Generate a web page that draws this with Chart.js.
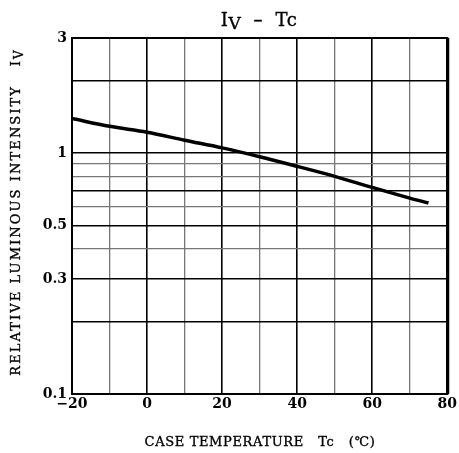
<!DOCTYPE html>
<html>
<head>
<meta charset="utf-8">
<script src="https://cdn.jsdelivr.net/npm/chart.js@4"></script>
<style>
  html, body { margin: 0; padding: 0; background: #fff; }
  #wrap { width: 459px; height: 453px; position: relative; }
</style>
</head>
<body>
<div id="wrap"><canvas id="ivChart" width="459" height="453"></canvas></div>
<script>
// data
const tempC = [-20, -10, 0, 10, 20, 30, 40, 50, 60, 70, 75];
const relIv = [1.39, 1.29, 1.22, 1.13, 1.05, 0.965, 0.88, 0.80, 0.72, 0.65, 0.62];
const yGrid = [0.1, 0.2, 0.3, 0.4, 0.5, 0.6, 0.7, 0.8, 0.9, 1, 2, 3];
const yLabels = [0.1, 0.3, 0.5, 1, 3];
const yStrong = [0.1, 0.2, 0.3, 0.5, 0.7, 1, 2, 3];
const xLabels = [-20, 0, 20, 40, 60, 80];

const SERIF = "'DejaVu Serif', serif";

function drawPieces(ctx, pieces, x, y, align, spacing) {
    // pieces: [text, fontSize, dy]
    ctx.letterSpacing = (spacing || 0) + "px";
    let total = 0;
    pieces.forEach(p => { ctx.font = p[1] + "px " + SERIF; total += ctx.measureText(p[0]).width; });
    let cx = align === "center" ? x - total / 2 : x;
    ctx.textAlign = "left";
    ctx.textBaseline = "alphabetic";
    ctx.strokeStyle = "#000";
    ctx.lineWidth = 0.35;
    pieces.forEach(p => {
        ctx.font = p[1] + "px " + SERIF;
        ctx.fillText(p[0], cx, y + p[2]);
        ctx.strokeText(p[0], cx, y + p[2]);
        cx += ctx.measureText(p[0]).width;
    });
    ctx.letterSpacing = "0px";
}

const textPlugin = {
    id: "texts",
    afterDraw(chart) {
        const ctx = chart.ctx;
        const a = chart.chartArea;
        ctx.save();
        ctx.fillStyle = "#000";
        // frame
        ctx.strokeStyle = "#000";
        ctx.lineWidth = 2;
        ctx.strokeRect(a.left, a.top, a.right - a.left, a.bottom - a.top);
        ctx.fillRect(a.right - 1, a.top, 3, a.bottom - a.top);
        // title
        drawPieces(ctx, [["I", 18, 0], ["V", 17, 3], ["  \u2013  Tc", 18, 0]], 259, 26, "center", 0.5);
        // x title
        drawPieces(ctx, [["CASE TEMPERATURE   Tc   (\u2103)", 13, 0]], 260, 446, "center", 0.65);
        // y title
        ctx.translate(20, 212);
        ctx.rotate(-Math.PI / 2);
        drawPieces(ctx, [["RELATIVE LUMINOUS INTENSITY   I", 13, 0], ["V", 12, 3]], 0, 0, "center", 2.1);
        ctx.restore();
    }
};

function bootChart() {
    const cv = document.getElementById("ivChart");
    new Chart(cv.getContext("2d"), {
        type: "line",
        data: { datasets: [{
            data: tempC.map((t, i) => ({ x: t, y: relIv[i] })),
            borderColor: "#000", borderWidth: 3.5, pointRadius: 0,
            cubicInterpolationMode: "monotone", fill: false
        }]},
        options: {
            responsive: false, animation: false, devicePixelRatio: 1,
            layout: { padding: { top: 38, right: 10, left: 0, bottom: 0 } },
            plugins: { legend: { display: false }, title: { display: false }, tooltip: { enabled: false } },
            scales: {
                x: {
                    type: "linear", min: -20, max: 80,
                    afterFit: s => { s.height = 59; },
                    afterBuildTicks: s => { s.ticks = []; for (let v = -20; v <= 80; v += 10) s.ticks.push({ value: v }); },
                    ticks: {
                        color: "#000", padding: 2, maxRotation: 0, autoSkip: false,
                        font: { family: SERIF, size: 14, weight: "bold" },
                        callback: v => xLabels.includes(v) ? (v < 0 ? "\u2212" + Math.abs(v) : String(v)) : ""
                    },
                    grid: {
                        drawTicks: false,
                        color: c => (c.tick && c.tick.value % 20 === 0) ? "#000" : "#777",
                        lineWidth: c => (c.tick && c.tick.value % 20 === 0) ? 1.6 : 1.3
                    },
                    border: { color: "#000", width: 2 }
                },
                y: {
                    type: "logarithmic", min: 0.1, max: 3,
                    afterFit: s => { s.width = 72; },
                    afterBuildTicks: s => { s.ticks = yGrid.map(v => ({ value: v })); },
                    ticks: {
                        color: "#000", padding: 5, autoSkip: false,
                        font: { family: SERIF, size: 14, weight: "bold" },
                        callback: v => yLabels.includes(v) ? String(v) : ""
                    },
                    grid: {
                        drawTicks: false,
                        color: c => (c.tick && yStrong.includes(c.tick.value)) ? "#000" : "#777",
                        lineWidth: c => (c.tick && yStrong.includes(c.tick.value)) ? 1.6 : 1.3
                    },
                    border: { color: "#000", width: 2 }
                }
            }
        },
        plugins: [textPlugin]
    });
}

document.addEventListener("DOMContentLoaded", bootChart);
</script>
</body>
</html>
